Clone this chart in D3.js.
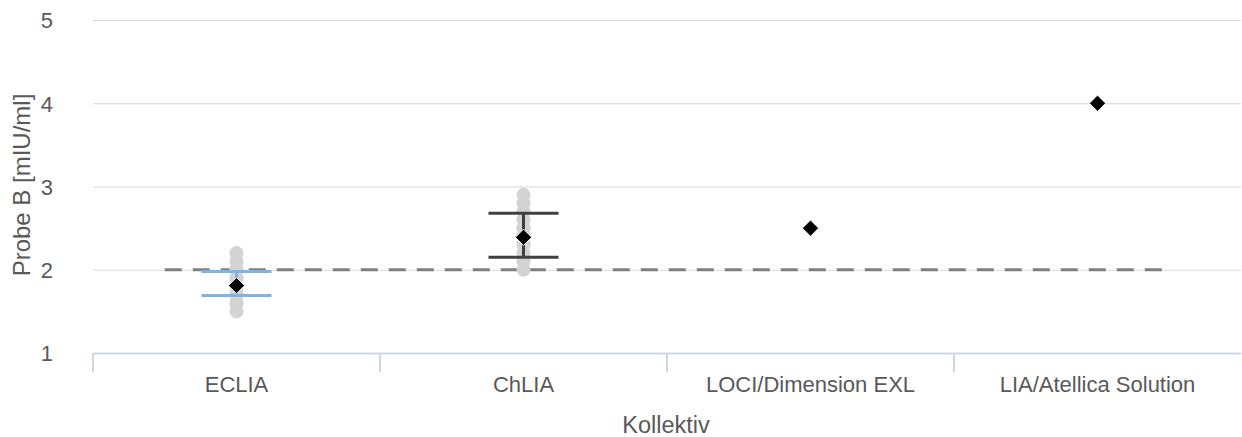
<!DOCTYPE html>
<html><head><meta charset="utf-8">
<script src="https://cdn.jsdelivr.net/npm/d3@7"></script>
<style>body{margin:0;background:#fff}svg{display:block;font-family:"Liberation Sans",Arial,sans-serif}</style>
</head><body><svg id="c" width="1242" height="437"></svg>
<script>
const categories = ["ECLIA","ChLIA","LOCI/Dimension EXL","LIA/Atellica Solution"];
const yTicks = [1,2,3,4,5];
const ecliaValues = [1.5,1.6,1.6,1.7,1.7,1.8,1.8,1.8,1.9,1.9,2.0,2.0,2.1,2.2];
const chliaValues = [2.0,2.1,2.2,2.3,2.3,2.4,2.4,2.5,2.5,2.6,2.7,2.8,2.9];
const means = [1.81,2.39,2.5,4.0];
const errLow = [1.69,2.15,null,null];
const errHigh = [1.98,2.68,null,null];
const errColors = ["#7fb2e5","#404040",null,null];
const targetValue = 2;
const targetRange = [0.75,4.25];

const svg = d3.select("#c");
const m = {l:93, r:1241, t:20, b:353};
const y = d3.scaleLinear().domain([1,5]).range([m.b, m.t]);
const x = d3.scaleBand().domain(categories).range([m.l, m.r]).padding(0);
const xc = d => x(d) + x.bandwidth()/2;
const xl = d3.scaleLinear().domain([0.5,4.5]).range([m.l, m.r]);
const FONT = "Liberation Sans, Arial, sans-serif";

// gridlines
const yAxis = d3.axisLeft(y).tickValues(yTicks).tickSize(-(m.r-m.l)).tickPadding(40).tickFormat(d3.format("d"));
const gy = svg.append("g").attr("transform",`translate(${m.l},0)`).call(yAxis);
gy.select(".domain").remove();
gy.selectAll(".tick line").attr("stroke","#d9d9d9").attr("stroke-width",1)
  .filter(d=>d===1).remove();
gy.selectAll(".tick text").attr("fill","#595959").style("font-size","22px").attr("font-family",FONT).attr("dy","0.36em");

// x axis
const xAxis = d3.axisBottom(x).tickSize(0).tickPadding(23);
const gx = svg.append("g").attr("transform",`translate(0,${m.b})`).call(xAxis);
gx.select(".domain").attr("stroke","#cfd7e6").attr("stroke-width",2);
gx.selectAll(".tick text").attr("fill","#595959").style("font-size","22px").attr("font-family",FONT);
const bounds = categories.map(c=>x(c));
gx.selectAll(".sep").data(bounds).enter().append("line")
  .attr("x1",d=>d).attr("x2",d=>d).attr("y1",0).attr("y2",19)
  .attr("stroke","#cfd7e6").attr("stroke-width",2);

// target dashed line
svg.append("line").attr("x1",xl(targetRange[0])).attr("x2",xl(targetRange[1]))
  .attr("y1",y(targetValue)).attr("y2",y(targetValue))
  .attr("stroke","#808080").attr("stroke-width",3).attr("stroke-dasharray","17,11");

// dots
const dotsData = [].concat(ecliaValues.map(v=>({c:categories[0],v})), chliaValues.map(v=>({c:categories[1],v})));
svg.append("g").selectAll("circle").data(dotsData).enter().append("circle")
  .attr("cx",d=>xc(d.c)).attr("cy",d=>y(d.v)).attr("r",7).attr("fill","#d3d3d3");

// error bars
const eb = svg.append("g");
categories.forEach((c,i)=>{
  if(errLow[i]==null) return;
  const cx = xc(c), col = errColors[i];
  eb.append("line").attr("x1",cx).attr("x2",cx).attr("y1",y(errLow[i])).attr("y2",y(errHigh[i])).attr("stroke",col).attr("stroke-width",3);
  [errLow[i],errHigh[i]].forEach(v=>{
    eb.append("line").attr("x1",cx-35).attr("x2",cx+35).attr("y1",y(v)).attr("y2",y(v)).attr("stroke",col).attr("stroke-width",3);
  });
});

// mean diamonds
svg.append("g").selectAll("path").data(means).enter().append("path")
  .attr("d",d3.symbol().type(d3.symbolDiamond2).size(170))
  .attr("transform",(d,i)=>`translate(${xc(categories[i])},${y(d)})`)
  .attr("fill","#000").attr("stroke","#fff").attr("stroke-width",1);

// axis titles
svg.append("text").attr("x",666).attr("y",433).attr("text-anchor","middle").attr("fill","#595959").style("font-size","23.5px").attr("font-family",FONT).text("Kollektiv");
svg.append("text").attr("transform","translate(30,185) rotate(-90)").attr("text-anchor","middle").attr("fill","#595959").style("font-size","24px").attr("font-family",FONT).text("Probe B [mIU/ml]");
</script></body></html>
